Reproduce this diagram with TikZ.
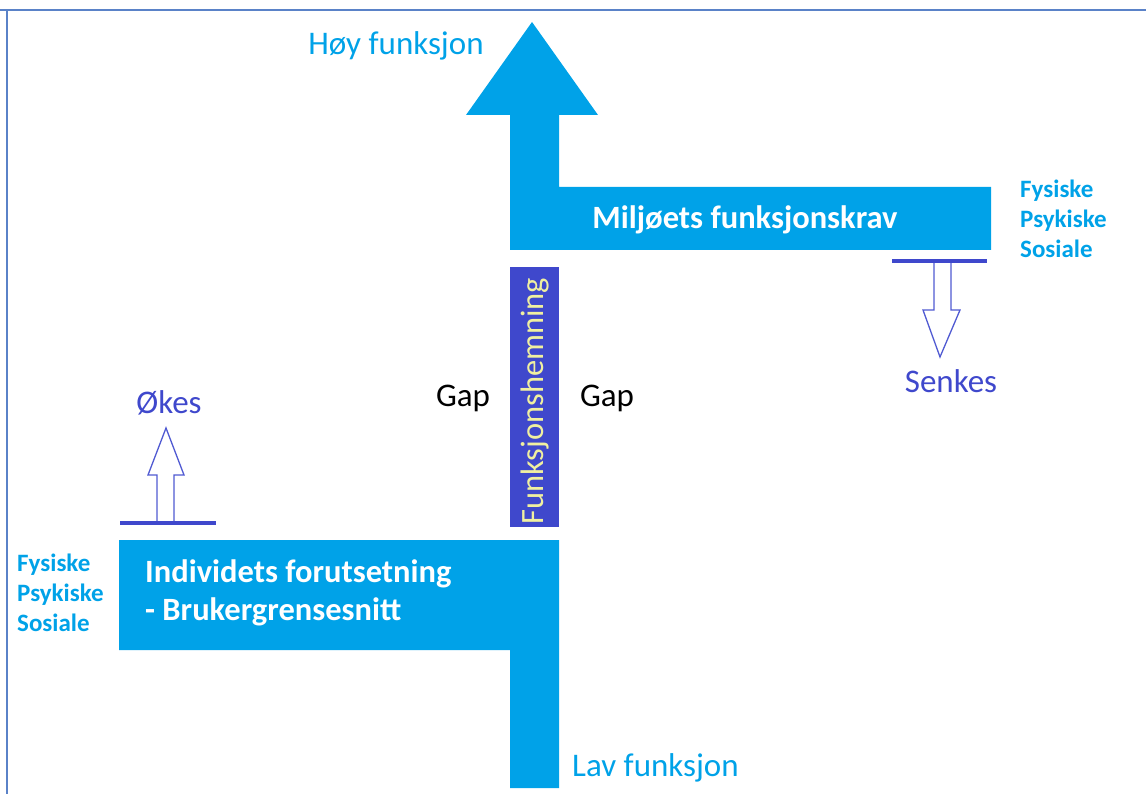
\documentclass[tikz,border=0pt]{standalone}
\usepackage{fontspec}
\setmainfont{Carlito}
\definecolor{mainblue}{RGB}{0,162,232}
\definecolor{indigo}{RGB}{63,72,204}
\definecolor{outl}{RGB}{80,90,210}
\definecolor{frame}{RGB}{90,130,200}
\definecolor{paleyellow}{RGB}{240,240,160}
\tikzset{
  blueshape/.style={fill=mainblue, draw=none},
  hollowarrow/.style={draw=outl, line width=1.3pt, fill=white, line join=miter},
  tbar/.style={draw=indigo, line width=4pt},
  lbl/.style={inner sep=0pt, font=\fontsize{33}{38}\selectfont},
  boldlbl/.style={inner sep=0pt, font=\fontsize{32.5}{38}\selectfont\bfseries, text=white, align=left},
  dimlbl/.style={inner sep=0pt, font=\fontsize{25}{30}\selectfont\bfseries, text=mainblue, align=left},
}
\begin{document}
\begin{tikzpicture}[x=1pt,y=-1pt]
\useasboundingbox (0,0) rectangle (1146,794);
% frame
\draw[frame, line width=1.5pt] (0,10) -- (1146,10);
\draw[frame, line width=1.5pt] (7,10) -- (7,794);
% top arrow + environment bar
\path[blueshape] (510,250) -- (510,115) -- (466,115) -- (532,22) -- (598,115) -- (559,115) -- (559,187) -- (991,187) -- (991,250) -- cycle;
% bottom individual bar + shaft
\path[blueshape] (119,540) -- (559,540) -- (559,788) -- (510,788) -- (510,650) -- (119,650) -- cycle;
% disability bar
\node[fill=indigo, minimum width=49pt, minimum height=260pt, inner sep=0pt, anchor=north west] (fh) at (510,267) {};
\node[rotate=90, text=paleyellow, inner sep=0pt, font=\fontsize{32.5}{38}\selectfont] (fhtext) at ([yshift=-4pt]fh.center) {Funksjonshemning};
% labels
\node[lbl, text=mainblue] (hoy) at (396,46) {Høy funksjon};
\node[lbl, text=mainblue, anchor=west] (lav) at (572,768) {Lav funksjon};
\node[boldlbl] (milj) at (745,220) {Miljøets funksjonskrav};
\node[boldlbl, anchor=west] (indiv) at (145,593) {Individets forutsetning\\{-} Brukergrensesnitt};
\node[dimlbl, anchor=west] (dimr) at (1020,219) {Fysiske\\Psykiske\\Sosiale};
\node[dimlbl, anchor=west] (diml) at (17,593) {Fysiske\\Psykiske\\Sosiale};
\node[lbl, text=black] (gapl) at (463,398) {Gap};
\node[lbl, text=black] (gapr) at (607,398) {Gap};
% Senkes
\draw[hollowarrow] (934,262) -- (934,310) -- (923,310) -- (940,357) -- (960,310) -- (951,310) -- (951,262);
\draw[tbar] (892,261) -- (987,261);
\node[lbl, text=indigo] (senkes) at (951,381) {Senkes};
% Økes
\draw[hollowarrow] (157,522) -- (157,475) -- (148,475) -- (166,428) -- (184,475) -- (174,475) -- (174,522);
\draw[tbar] (120,523) -- (216,523);
\node[lbl, text=indigo] (okes) at (169,403) {Økes};
\end{tikzpicture}
\end{document}
